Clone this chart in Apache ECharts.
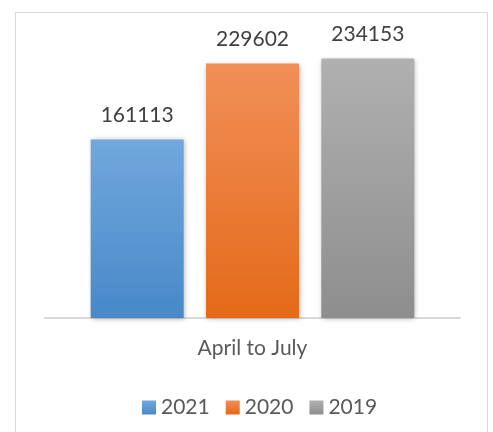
<!DOCTYPE html>
<html>
<head>
<meta charset="utf-8">
<script src="https://cdn.jsdelivr.net/npm/echarts@6/dist/echarts.min.js"></script>
<style>
  html, body { margin: 0; padding: 0; background: #fff; }
  #chart { width: 493px; height: 432px; }
</style>
</head>
<body>
<div id="chart"></div>
<script>
  // data
  var categories = ['April to July']
  var years = ['2021', '2020', '2019']
  var values2021 = [161113]
  var values2020 = [229602]
  var values2019 = [234153]

  // top / bottom of each gradient
  var colors = [
    ['#71a8dd', '#4888c8'],
    ['#f18f58', '#e46a18'],
    ['#b0b0b0', '#8e8e8e']
  ]
  var font = 'Lato'

  function grad(c) {
    return new echarts.graphic.LinearGradient(0, 0, 0, 1, [
      { offset: 0, color: c[0] },
      { offset: 1, color: c[1] }
    ])
  }

  function buildSeries(name, data, idx) {
    return {
      name: name,
      type: 'bar',
      data: data,
      barWidth: 93,
      barGap: '24%',
      itemStyle: {
        color: grad(colors[idx]),
        shadowBlur: 5,
        shadowColor: 'rgba(0,0,0,0.3)',
        shadowOffsetX: 1,
        shadowOffsetY: 1
      },
      label: {
        show: true,
        position: 'top',
        distance: 14,
        color: '#404040',
        fontSize: 21,
        fontFamily: font
      }
    }
  }

  var myCharts = echarts.init(document.getElementById('chart'))
  myCharts.setOption({
    animation: false,
    graphic: [{
      type: 'rect',
      shape: { x: 15.5, y: 12.5, width: 472, height: 430 },
      style: { fill: 'none', stroke: '#d9d9d9', lineWidth: 1 },
      silent: true
    }],
    grid: {
      left: 45,
      right: 33,
      top: 41,
      bottom: 114
    },
    legend: {
      left: 137,
      top: 392,
      itemWidth: 14,
      itemHeight: 14,
      itemGap: 16,
      icon: 'rect',
      textStyle: { color: '#595959', fontSize: 21, fontFamily: font },
      data: years
    },
    xAxis: {
      type: 'category',
      data: categories,
      axisLine: { lineStyle: { color: '#d9d9d9', width: 2 } },
      axisTick: { show: false },
      axisLabel: { color: '#595959', fontSize: 21, fontFamily: font, margin: 20 }
    },
    yAxis: {
      type: 'value',
      min: 0,
      max: 250000,
      show: false,
      splitLine: { show: false }
    },
    series: [
      buildSeries(years[0], values2021, 0),
      buildSeries(years[1], values2020, 1),
      buildSeries(years[2], values2019, 2)
    ]
  })
</script>
</body>
</html>
